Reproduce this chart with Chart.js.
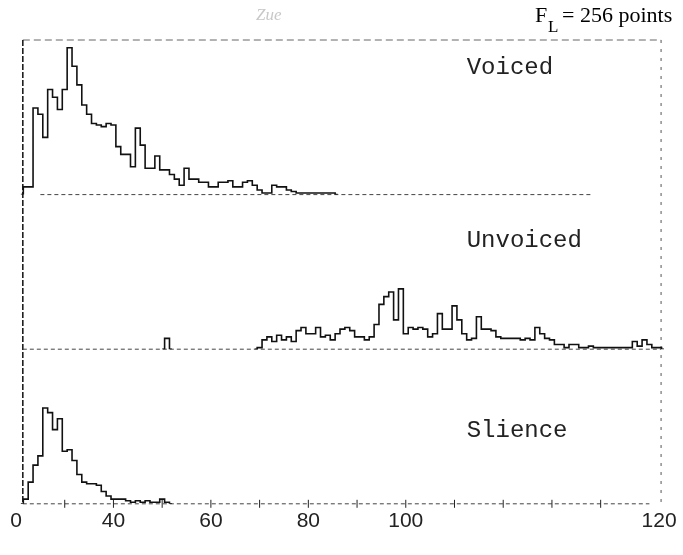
<!DOCTYPE html>
<html>
<head>
<meta charset="utf-8">
<script src="https://cdn.jsdelivr.net/npm/chart.js@4.4.1/dist/chart.umd.min.js"></script>
<style>
  html, body { margin: 0; padding: 0; background: #fff; }
</style>
</head>
<body>
<canvas id="zcrChart" width="683" height="555"></canvas>
<script>
// histogram counts per bin (bin = position on the x grid)
var voicedStart = 1;
var voicedCounts = [0, 5, 5, 56, 52, 37, 68, 63, 55, 68, 95, 83, 71, 58, 52, 46, 45, 44, 46, 45,
  31, 26, 26, 18, 43, 32, 17, 17, 25, 16, 16, 13, 10, 6, 17, 10, 10, 8, 8, 5,
  5, 8, 8, 9, 5, 5, 8, 9, 6, 3, 1, 1, 6, 5, 5, 3, 2, 1, 1, 1,
  1, 1, 1, 1, 1, 0];

var unvoicedStart = 27;
var unvoicedCounts = [0, 0, 0, 0, 7, 0, 0, 0, 0, 0, 0, 0, 0, 0, 0, 0, 0, 0, 0, 0,
  0, 0, 0, 1, 6, 8, 5, 9, 6, 8, 5, 12, 14, 10, 10, 14, 8, 9, 6, 10,
  13, 14, 12, 8, 8, 6, 8, 16, 29, 34, 37, 19, 39, 10, 14, 13, 14, 13, 8, 10,
  23, 13, 13, 28, 19, 10, 6, 7, 21, 13, 13, 12, 8, 7, 7, 7, 7, 6, 7, 6,
  14, 10, 7, 6, 3, 3, 1, 3, 3, 1, 1, 2, 1, 1, 1, 1, 1, 1, 1, 1,
  5, 2, 6, 3, 1, 1, 0];

var silenceStart = 1;
var silenceCounts = [0, 3, 14, 25, 31, 62, 59, 48, 55, 34, 35, 28, 19, 14, 13, 13, 12, 8, 5, 3,
  3, 3, 2, 1, 2, 1, 2, 1, 1, 3, 1, 0];

var panelLabels = ['Voiced', 'Unvoiced', 'Slience'];
var xTickPos = [0, 20, 40, 60, 80, 132];
var xTickLabels = ['0', '40', '60', '80', '100', '120'];

function toPoints(start, counts) {
  return counts.map(function(c, i) { return { x: start + i, y: c }; });
}

// hide flat runs at zero so the dotted baseline shows through
var hideZero = {
  borderColor: function(ctx) {
    if (ctx.p0.parsed.y === 0 && ctx.p1.parsed.y === 0) return 'rgba(0,0,0,0)';
    return undefined;
  }
};

var decor = {
  id: 'decor',
  beforeDatasetsDraw: function(chart) {
    var c = chart.ctx, x = chart.scales.x;
    var yV = chart.scales.yV, yU = chart.scales.yU, yS = chart.scales.yS;
    var left = x.getPixelForValue(1.4), right = x.getPixelForValue(132.4);
    var top = chart.chartArea.top, bottom = yS.getPixelForValue(0);
    c.save();
    // frame
    c.lineWidth = 1;
    c.strokeStyle = '#666';
    c.setLineDash([7, 4]);
    c.beginPath(); c.moveTo(left, top); c.lineTo(right, top); c.stroke();
    c.strokeStyle = '#555';
    c.setLineDash([3, 6]);
    c.beginPath(); c.moveTo(right, top); c.lineTo(right, bottom); c.stroke();
    c.strokeStyle = '#111';
    c.lineWidth = 1.5;
    c.setLineDash([6, 2]);
    c.beginPath(); c.moveTo(left, top); c.lineTo(left, bottom); c.stroke();
    // baselines
    c.lineWidth = 1;
    c.strokeStyle = '#444';
    c.setLineDash([4, 3]);
    [[yV, 5, 118], [yU, 1.4, 132.4], [yS, 1.4, 130]].forEach(function(b) {
      var yy = b[0].getPixelForValue(0);
      c.beginPath(); c.moveTo(x.getPixelForValue(b[1]), yy); c.lineTo(x.getPixelForValue(b[2]), yy); c.stroke();
    });
    // small crosses on the bottom baseline
    c.setLineDash([]);
    c.strokeStyle = '#222';
    for (var v = 10; v <= 120; v += 10) {
      var px = x.getPixelForValue(v);
      c.beginPath(); c.moveTo(px, bottom - 4); c.lineTo(px, bottom + 4); c.stroke();
    }
    c.restore();
  },
  afterDraw: function(chart) {
    var c = chart.ctx, x = chart.scales.x;
    var axes = [chart.scales.yV, chart.scales.yU, chart.scales.yS];
    var labelY = [82, 70, 47];
    c.save();
    c.fillStyle = '#222';
    c.font = '24px "Liberation Mono", "DejaVu Sans Mono", monospace';
    c.textBaseline = 'middle';
    panelLabels.forEach(function(t, i) {
      c.fillText(t, x.getPixelForValue(92.5), axes[i].getPixelForValue(labelY[i]));
    });
    // title
    c.fillStyle = '#000';
    c.textBaseline = 'alphabetic';
    c.font = '22px "Liberation Serif", serif';
    c.fillText('F', 535, 22);
    c.font = '17px "Liberation Serif", serif';
    c.fillText('L', 548, 32);
    c.font = '22px "Liberation Serif", serif';
    c.fillText('= 256 points', 562, 22);
    c.fillStyle = '#c8c8c8';
    c.font = 'italic 17px "Liberation Serif", serif';
    c.fillText('Zue', 256, 20);
    c.restore();
  }
};

var lineStyle = { borderColor: '#111', borderWidth: 1.6, pointRadius: 0, stepped: 'middle', fill: false, segment: hideZero };

var ctx = document.getElementById('zcrChart').getContext('2d');
var zcrChart = new Chart(ctx, {
  type: 'line',
  data: {
    datasets: [
      Object.assign({ label: panelLabels[0], data: toPoints(voicedStart, voicedCounts), yAxisID: 'yV' }, lineStyle),
      Object.assign({ label: panelLabels[1], data: toPoints(unvoicedStart, unvoicedCounts), yAxisID: 'yU' }, lineStyle),
      Object.assign({ label: panelLabels[2], data: toPoints(silenceStart, silenceCounts), yAxisID: 'yS' }, lineStyle)
    ]
  },
  options: {
    responsive: false,
    animation: false,
    devicePixelRatio: 1,
    layout: { padding: { left: 16, right: 19, top: 40, bottom: 16 } },
    plugins: { legend: { display: false }, tooltip: { enabled: false } },
    scales: {
      x: {
        type: 'linear', min: 0, max: 133,
        grid: { display: false, drawTicks: false },
        border: { display: false },
        afterBuildTicks: function(s) { s.ticks = xTickPos.map(function(v) { return { value: v }; }); },
        ticks: {
          autoSkip: false, maxRotation: 0, padding: 5, color: '#222',
          font: { family: '"Liberation Sans", sans-serif', size: 21 },
          callback: function(v, i) { return xTickLabels[i]; }
        }
      },
      // stacked panels: the first one listed ends up at the bottom
      yS: { type: 'linear', display: false, min: 0, max: 100, position: 'left', stack: 'panels', stackWeight: 1 },
      yU: { type: 'linear', display: false, min: 0, max: 100, position: 'left', stack: 'panels', stackWeight: 1 },
      yV: { type: 'linear', display: false, min: 0, max: 100, position: 'left', stack: 'panels', stackWeight: 1 }
    }
  },
  plugins: [decor]
});
</script>
</body>
</html>
